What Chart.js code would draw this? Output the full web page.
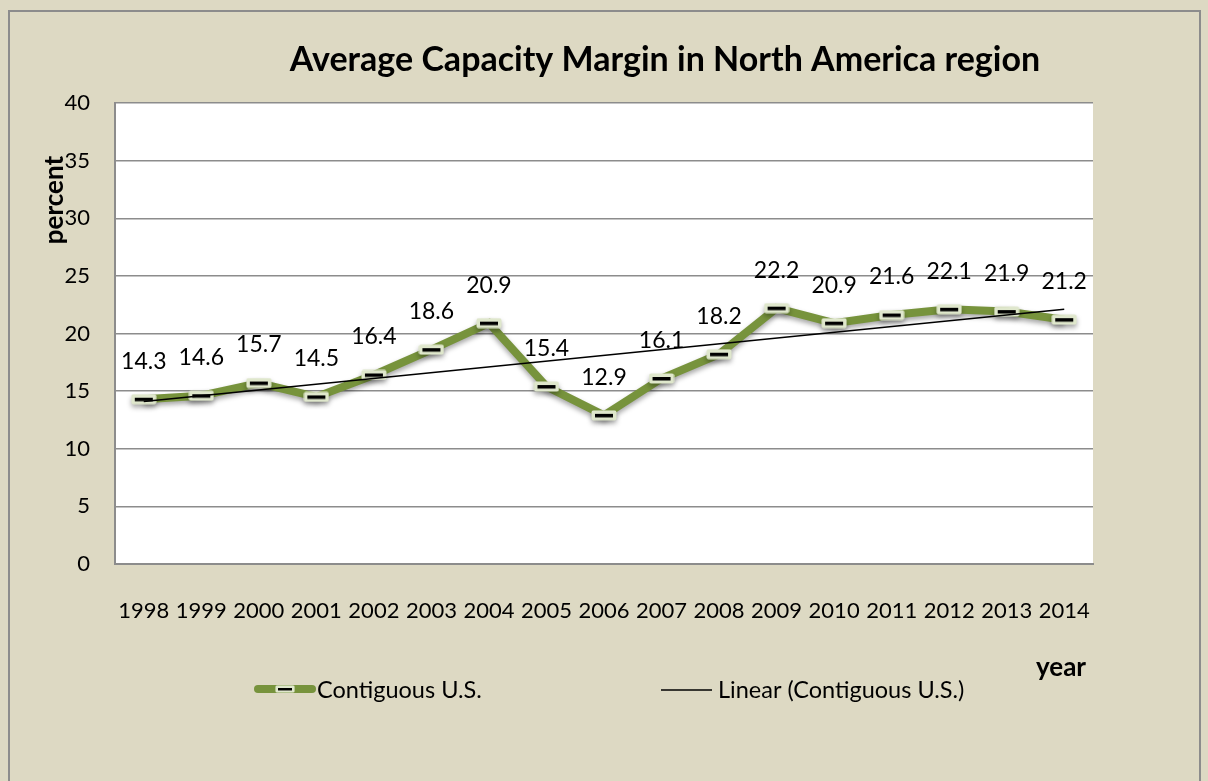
<!DOCTYPE html>
<html>
<head>
<meta charset="utf-8">
<script src="https://cdn.jsdelivr.net/npm/chart.js@4/dist/chart.umd.min.js"></script>
<style>
  html, body { margin: 0; padding: 0; background: #ddd9c3; }
  #wrap { width: 1208px; height: 781px; }
</style>
</head>
<body>
<div id="wrap"><canvas id="chart" width="1208" height="781"></canvas></div>
<script>
// data
const years = ['1998', '1999', '2000', '2001', '2002', '2003', '2004', '2005', '2006',
  '2007', '2008', '2009', '2010', '2011', '2012', '2013', '2014'];
const margin = [14.3, 14.6, 15.7, 14.5, 16.4, 18.6, 20.9, 15.4, 12.9,
  16.1, 18.2, 22.2, 20.9, 21.6, 22.1, 21.9, 21.2];
// trendline ends, as drawn in the picture
const trend = [14.1, null, null, null, null, null, null, null, null,
  null, null, null, null, null, null, null, 22.1];
const yTicks = [0, 5, 10, 15, 20, 25, 30, 35, 40];

const FONT = 'Lato, "Open Sans", sans-serif';
const GREEN = '#77933c';
const BEIGE = '#ddd9c3';

// dash marker like excel's
function makeMarker() {
  const c = document.createElement('canvas');
  c.width = 26; c.height = 11;
  const g = c.getContext('2d');
  g.fillStyle = '#dfe7cc';
  g.beginPath();
  g.roundRect(0.5, 0.5, 25, 10, 2);
  g.fill();
  g.fillStyle = '#000';
  g.fillRect(4, 4, 18, 3.5);
  return c;
}
const marker = makeMarker();

const backdrop = {
  id: 'backdrop',
  beforeDraw(chart) {
    const ctx = chart.ctx, a = chart.chartArea;
    ctx.save();
    ctx.fillStyle = BEIGE;
    ctx.fillRect(0, 0, chart.width, chart.height);
    ctx.strokeStyle = '#8c8c8c';
    ctx.lineWidth = 2;
    ctx.strokeRect(9, 11, 1191, 800);
    ctx.fillStyle = '#fff';
    ctx.fillRect(a.left, a.top, a.right - a.left, a.bottom - a.top);
    ctx.restore();
  }
};

// soft shadow under the green line
const shadow = {
  id: 'shadow',
  beforeDatasetDraw(chart, args) {
    if (args.index !== 1) return;
    const ctx = chart.ctx;
    ctx.save();
    ctx.shadowColor = 'rgba(0,0,0,0.35)';
    ctx.shadowBlur = 5;
    ctx.shadowOffsetY = 3;
  },
  afterDatasetDraw(chart, args) {
    if (args.index !== 1) return;
    chart.ctx.restore();
  }
};

const extras = {
  id: 'extras',
  afterDatasetsDraw(chart) {
    const ctx = chart.ctx;
    const meta = chart.getDatasetMeta(1);
    ctx.save();
    ctx.fillStyle = '#000';
    ctx.font = '23px ' + FONT;
    ctx.textAlign = 'center';
    ctx.textBaseline = 'middle';
    meta.data.forEach((pt, i) => {
      ctx.fillText(margin[i].toFixed(1), pt.x, pt.y - 38);
    });
    ctx.restore();
  },
  afterDraw(chart) {
    const ctx = chart.ctx;
    ctx.save();
    // title
    ctx.fillStyle = '#000';
    ctx.font = 'bold 34px ' + FONT;
    ctx.textAlign = 'center';
    ctx.textBaseline = 'middle';
    ctx.fillText('Average Capacity Margin in North America region', 665, 60);
    // axis titles
    ctx.font = 'bold 26px ' + FONT;
    ctx.fillText('year', 1061, 668);
    ctx.save();
    ctx.translate(55, 200);
    ctx.rotate(-Math.PI / 2);
    ctx.fillText('percent', 0, 0);
    ctx.restore();
    // legend
    ctx.lineCap = 'round';
    ctx.strokeStyle = GREEN;
    ctx.lineWidth = 8;
    ctx.beginPath(); ctx.moveTo(258, 689); ctx.lineTo(312, 689); ctx.stroke();
    ctx.drawImage(marker, 285 - 10, 689 - 4, 20, 8);
    ctx.lineCap = 'butt';
    ctx.strokeStyle = '#000';
    ctx.lineWidth = 1.5;
    ctx.beginPath(); ctx.moveTo(661, 690); ctx.lineTo(712, 690); ctx.stroke();
    ctx.font = '23.5px ' + FONT;
    ctx.textAlign = 'left';
    ctx.fillText('Contiguous U.S.', 317, 690);
    ctx.fillText('Linear (Contiguous U.S.)', 718, 690);
    ctx.restore();
  }
};

new Chart(document.getElementById('chart'), {
  type: 'line',
  data: {
    labels: years,
    datasets: [
      {
        label: 'Linear (Contiguous U.S.)',
        data: trend,
        spanGaps: true,
        borderColor: '#000',
        borderWidth: 1.5,
        pointRadius: 0,
        tension: 0
      },
      {
        label: 'Contiguous U.S.',
        data: margin,
        borderColor: GREEN,
        borderWidth: 8,
        tension: 0,
        pointStyle: marker,
        pointRadius: 10
      }
    ]
  },
  options: {
    responsive: false,
    animation: false,
    events: [],
    layout: { padding: { top: 103, right: 115, bottom: 0, left: 0 } },
    plugins: { legend: { display: false }, tooltip: { enabled: false }, title: { display: false } },
    scales: {
      x: {
        offset: true,
        grid: { display: false, offset: true },
        border: { display: true, color: '#8c8c8c', width: 2 },
        ticks: { color: '#000', font: { family: FONT, size: 22 }, padding: 26, maxRotation: 0, autoSkip: false },
        afterFit(s) { s.height = 217; }
      },
      y: {
        min: 0,
        max: 40,
        afterBuildTicks(s) { s.ticks = yTicks.map(v => ({ value: v })); },
        grid: { color: '#8c8c8c', lineWidth: 1.5, drawTicks: false },
        border: { display: true, color: '#8c8c8c', width: 2 },
        ticks: { color: '#000', font: { family: FONT, size: 22 }, padding: 25 },
        afterFit(s) { s.width = 115; }
      }
    }
  },
  plugins: [backdrop, shadow, extras]
});
</script>
</body>
</html>
